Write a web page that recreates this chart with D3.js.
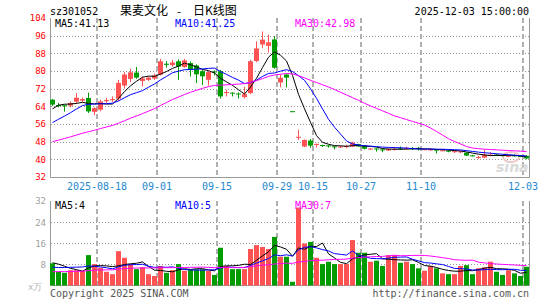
<!DOCTYPE html>
<html>
<head>
<meta charset="utf-8">
<script src="https://d3js.org/d3.v7.min.js"></script>
<style>
  body { margin: 0; background: #fff; }
  svg { display: block; }
  text { font-family: "DejaVu Sans Mono", monospace; }
</style>
</head>
<body>
<div class="container"></div>
<script>
// trading days on the chart
const dates = [
  "2025-08-06","2025-08-07","2025-08-08","2025-08-11","2025-08-12","2025-08-13","2025-08-14","2025-08-15","2025-08-18","2025-08-19",
  "2025-08-20","2025-08-21","2025-08-22","2025-08-25","2025-08-26","2025-08-27","2025-08-28","2025-08-29","2025-09-01","2025-09-02",
  "2025-09-03","2025-09-04","2025-09-05","2025-09-08","2025-09-09","2025-09-10","2025-09-11","2025-09-12","2025-09-15","2025-09-16",
  "2025-09-17","2025-09-18","2025-09-19","2025-09-22","2025-09-23","2025-09-24","2025-09-25","2025-09-26","2025-09-29","2025-09-30",
  "2025-10-09","2025-10-10","2025-10-13","2025-10-14","2025-10-15","2025-10-16","2025-10-17","2025-10-20","2025-10-21","2025-10-22",
  "2025-10-23","2025-10-24","2025-10-27","2025-10-28","2025-10-29","2025-10-30","2025-10-31","2025-11-03","2025-11-04","2025-11-05",
  "2025-11-06","2025-11-07","2025-11-10","2025-11-11","2025-11-12","2025-11-13","2025-11-14","2025-11-17","2025-11-18","2025-11-19",
  "2025-11-20","2025-11-21","2025-11-24","2025-11-25","2025-11-26","2025-11-27","2025-11-28","2025-12-01","2025-12-02","2025-12-03"
];

const opens = [
  67.0,64.6,64.5,64.3,66.1,66.6,67.8,61.5,62.5,66.3,
  66.8,67.5,73.4,76.4,79.3,75.5,76.0,76.6,78.4,83.3,
  82.7,84.4,81.8,83.6,82.5,79.9,76.0,79.8,79.9,70.0,
  70.2,69.8,68.2,70.0,84.5,92.0,91.4,94.3,74.8,78.4,
  61.8,49.9,45.8,48.5,46.5,46.5,46.3,45.9,45.4,45.6,
  45.8,46.9,46.2,44.5,44.9,44.5,44.0,44.4,45.0,44.7,
  45.0,45.2,44.3,44.2,44.4,43.9,43.9,43.4,43.3,43.0,
  41.8,40.8,40.8,41.8,42.2,41.9,41.3,41.8,41.5,41.6
];
const closes = [
  64.8,64.3,64.1,65.5,67.9,67.3,61.7,63.2,66.2,66.8,
  67.3,74.6,78.4,79.4,77.0,76.6,77.0,78.0,84.4,82.8,
  83.8,82.0,84.8,80.5,78.5,77.6,79.5,79.3,68.5,70.5,
  69.8,69.5,69.5,84.4,90.2,94.2,93.0,81.5,76.9,77.0,
  61.6,50.2,48.8,46.2,47.0,46.2,46.0,45.6,45.8,46.0,
  47.6,45.9,44.8,44.9,44.6,44.2,44.7,44.7,44.7,45.0,
  44.8,44.6,44.6,44.5,44.0,44.1,43.6,43.7,43.6,41.7,
  41.6,41.1,42.0,42.1,41.9,41.6,41.6,41.5,41.2,40.4
];
const highs = [
  67.3,65.5,64.7,66.2,70.0,68.0,70.2,63.5,67.0,67.9,
  68.5,76.0,79.5,81.0,81.8,77.5,77.5,78.8,85.5,84.5,
  85.0,85.3,85.5,84.3,83.0,80.5,80.0,80.3,80.5,71.5,
  70.3,70.3,72.9,85.0,93.4,97.9,96.5,95.8,78.4,78.6,
  61.8,53.4,49.0,49.2,47.1,46.6,46.5,46.0,46.0,46.6,
  48.0,47.0,46.5,45.1,45.0,44.8,45.0,45.6,45.8,45.7,
  45.6,45.6,44.8,45.0,44.6,44.4,44.2,44.0,43.8,43.2,
  42.0,41.6,44.3,43.2,42.5,42.1,41.9,42.3,41.7,41.8
];
const lows = [
  64.2,63.6,61.6,63.6,65.2,66.0,61.0,60.0,61.8,65.6,
  66.0,66.5,72.0,75.0,76.5,73.0,75.5,76.0,78.0,81.5,
  82.0,76.0,81.5,77.5,74.5,73.7,73.4,78.0,67.5,68.5,
  68.5,67.5,67.5,69.5,84.0,90.3,88.3,81.0,72.6,72.6,
  61.6,48.8,45.5,45.2,45.3,45.6,45.3,44.5,45.2,45.0,
  45.5,45.6,44.5,44.3,43.5,43.2,43.8,44.0,44.2,44.4,
  44.3,44.0,44.1,43.8,42.6,43.7,43.2,42.9,42.8,41.5,
  41.3,40.2,40.5,41.5,41.6,41.3,41.0,41.2,41.0,40.0
];
// volume, 10k lots
const volumes = [
  8.4,5.2,4.8,5.8,5.8,5.6,11.5,8.1,6.7,5.2,
  4.3,13.0,10.5,8.1,6.2,6.9,4.3,3.6,7.4,4.8,
  5.8,8.1,5.6,6.1,6.1,6.1,5.5,4.0,14.3,7.4,
  6.2,6.2,6.2,13.8,15.3,14.6,13.8,18.4,10.9,10.9,
  1.4,29.5,15.9,16.5,10.5,8.1,9.0,8.1,8.1,8.1,
  17.2,12.4,12.4,9.0,9.4,7.4,11.5,11.5,8.6,9.0,
  8.1,6.5,5.6,7.4,6.5,4.6,4.3,4.3,7.4,7.7,
  4.3,6.5,6.9,9.0,5.2,4.0,5.8,4.6,3.6,7.1
];
// sessions before the first visible day (feed the moving averages), estimated
const priorCloses = [
  42.5,42.0,43.0,43.5,42.5,42.0,42.5,43.5,45.0,46.0,
  45.5,44.5,45.0,46.0,45.0,44.0,43.0,42.0,42.5,43.0,
  49.0,50.0,50.0,51.0,52.0,56.0,62.0,65.0,66.5
];
const priorVolumes = [
  4.0,5.0,4.0,3.5,4.5,5.0,4.0,4.0,3.5,4.0,
  5.0,4.5,4.0,4.0,5.0,4.5,4.0,4.5,5.0,5.5,
  6.0,5.0,5.0,5.0,5.0,7.7,8.8,9.8,8.3
];

const priceTicks = [104, 96, 88, 80, 72, 64, 56, 48, 40, 32];
const volTicks = [32, 24, 16, 8];
const tickDates = ["2025-08-18","2025-09-01","2025-09-15","2025-09-29","2025-10-15","2025-10-27","2025-11-10","2025-12-03"];
const tickLabels = ["2025-08-18","09-01","09-15","09-29","10-15","10-27","11-10","12-03"];

const UP = "#ff5252", DOWN = "#009c00";
const maColors = ["#000000", "#0000ff", "#ff00ff"];

const svg = d3.select(".container").append("svg")
  .attr("width", 545).attr("height", 300);

const x = d3.scaleBand().domain(dates).range([50, 530]).padding(0);
const yP = d3.scaleLinear().domain([32, 104]).range([177, 18]);
const yV = d3.scaleLinear().domain([0, 32]).range([285.5, 201]);
const crisp = (v) => Math.round(v) + 0.5;

// moving averages
const movingAvg = (prior, values, n) => {
  const full = prior.concat(values);
  return values.map((_, i) => d3.mean(full.slice(prior.length + i - n + 1, prior.length + i + 1)));
};
const priceMA = [5, 10, 30].map((n) => movingAvg(priorCloses, closes, n));
const volMA = [5, 10, 30].map((n) => movingAvg(priorVolumes, volumes, n));

// grids
const grid = svg.append("g");
priceTicks.filter((t) => t !== 104 && t !== 32).forEach((t) => {
  grid.append("line").attr("x1", 51).attr("x2", 529).attr("y1", crisp(yP(t))).attr("y2", crisp(yP(t)))
    .attr("stroke", "#999").attr("stroke-dasharray", "1,2");
});
volTicks.filter((t) => t !== 32).forEach((t) => {
  grid.append("line").attr("x1", 51).attr("x2", 529).attr("y1", crisp(yV(t))).attr("y2", crisp(yV(t)))
    .attr("stroke", "#999").attr("stroke-dasharray", "1,2");
});
tickDates.forEach((d) => {
  [[18, 177], [201, 285]].forEach(([a, b]) => {
    grid.append("line").attr("x1", x(d) - 1).attr("x2", x(d) - 1).attr("y1", a).attr("y2", b)
      .attr("stroke", "#b0b0b0").attr("stroke-width", 2).attr("stroke-dasharray", "5,3");
  });
});

// sina watermark
const wm = svg.append("g").attr("opacity", 0.9);
wm.append("ellipse").attr("cx", 511).attr("cy", 157).attr("rx", 8).attr("ry", 5)
  .attr("fill", "none").attr("stroke", "#f3c4c4").attr("stroke-width", 2);
wm.append("text").attr("x", 496).attr("y", 172).text("sina")
  .style("font-family", "DejaVu Sans").style("font-weight", "bold").style("font-style", "italic")
  .style("font-size", "14px").attr("fill", "#d6d6d6");

// frames
[[18, 177.5], [201, 285.5]].forEach(([a, b]) => {
  svg.append("path").attr("d", `M50.5,${a}V${b}H529.5V${a}`)
    .attr("fill", "none").attr("stroke", "#999");
});

// candles
const candles = svg.append("g");
dates.forEach((d, i) => {
  const o = opens[i], c = closes[i];
  const color = c >= o ? UP : DOWN;
  candles.append("line")
    .attr("x1", x(d) + 2.5).attr("x2", x(d) + 2.5)
    .attr("y1", yP(highs[i])).attr("y2", yP(lows[i]))
    .attr("stroke", color);
  const top = yP(Math.max(o, c));
  candles.append("rect")
    .attr("x", x(d)).attr("width", 5)
    .attr("y", top).attr("height", Math.max(1, yP(Math.min(o, c)) - top))
    .attr("fill", color);
});

// volume bars
svg.append("g").selectAll("rect").data(dates).join("rect")
  .attr("x", (d) => x(d)).attr("width", 5)
  .attr("y", (d, i) => yV(volumes[i]))
  .attr("height", (d, i) => yV(0) - yV(volumes[i]))
  .attr("fill", (d, i) => (closes[i] >= opens[i] ? UP : DOWN));

// MA lines
const lineOf = (scale) => d3.line().x((v, i) => x(dates[i]) + 2.5).y((v) => scale(v));
priceMA.forEach((s, k) => {
  svg.append("path").attr("d", lineOf(yP)(s)).attr("fill", "none").attr("stroke", maColors[k]);
});
volMA.forEach((s, k) => {
  svg.append("path").attr("d", lineOf(yV)(s)).attr("fill", "none").attr("stroke", maColors[k]);
});

// axes labels
svg.append("g").attr("transform", "translate(50,0)")
  .call(d3.axisLeft(yP).tickValues(priceTicks).tickSize(0).tickPadding(4))
  .call((g) => g.select(".domain").remove())
  .selectAll("text").attr("fill", "#ff0000")
  .style("font-family", "DejaVu Sans Mono").style("font-size", "9px");

svg.append("g").attr("transform", "translate(50,0)")
  .call(d3.axisLeft(yV).tickValues(volTicks).tickSize(0).tickPadding(4))
  .call((g) => g.select(".domain").remove())
  .selectAll("text").attr("fill", "#a0a0a0")
  .style("font-family", "DejaVu Sans Mono").style("font-size", "9px");

svg.append("g").selectAll("text").data(tickDates).join("text")
  .attr("x", (d) => x(d) - 1).attr("y", 190)
  .attr("text-anchor", "middle").attr("fill", "#1e88d0")
  .style("font-size", "10px")
  .text((d, i) => tickLabels[i]);

// header
svg.append("text").attr("x", 50).attr("y", 15).text("sz301052").style("font-size", "10px");
const title = svg.append("g").style("font-family", "Noto Sans CJK SC").style("font-size", "12px");
title.append("text").attr("x", 120).attr("y", 15).text("果麦文化").style("font-family", "Noto Sans CJK SC");
title.append("text").attr("x", 179).attr("y", 15).attr("text-anchor", "middle").text("-")
  .style("font-size", "11px");
title.append("text").attr("x", 193).attr("y", 15).text("日K线图").style("font-family", "Noto Sans CJK SC");
svg.append("text").attr("x", 529).attr("y", 15).attr("text-anchor", "end")
  .text("2025-12-03 15:00:00").style("font-size", "10px");

const maText = (y, labels) => {
  labels.forEach((t, k) => {
    svg.append("text").attr("x", [55, 175, 295][k]).attr("y", y)
      .attr("fill", maColors[k]).style("font-size", "10px").text(t);
  });
};
maText(27, ["MA5:41.13", "MA10:41.25", "MA30:42.98"]);
maText(209, ["MA5:4", "MA10:5", "MA30:7"]);

svg.append("text").attr("x", 28).attr("y", 290).text("x万")
  .attr("fill", "#b8b8b8").style("font-size", "9px");
svg.append("text").attr("x", 50).attr("y", 297).text("Copyright 2025 SINA.COM")
  .attr("fill", "#555").style("font-size", "10px");
svg.append("text").attr("x", 529).attr("y", 297).attr("text-anchor", "end")
  .text("http://finance.sina.com.cn").attr("fill", "#555").style("font-size", "10px");
</script>
</body>
</html>
